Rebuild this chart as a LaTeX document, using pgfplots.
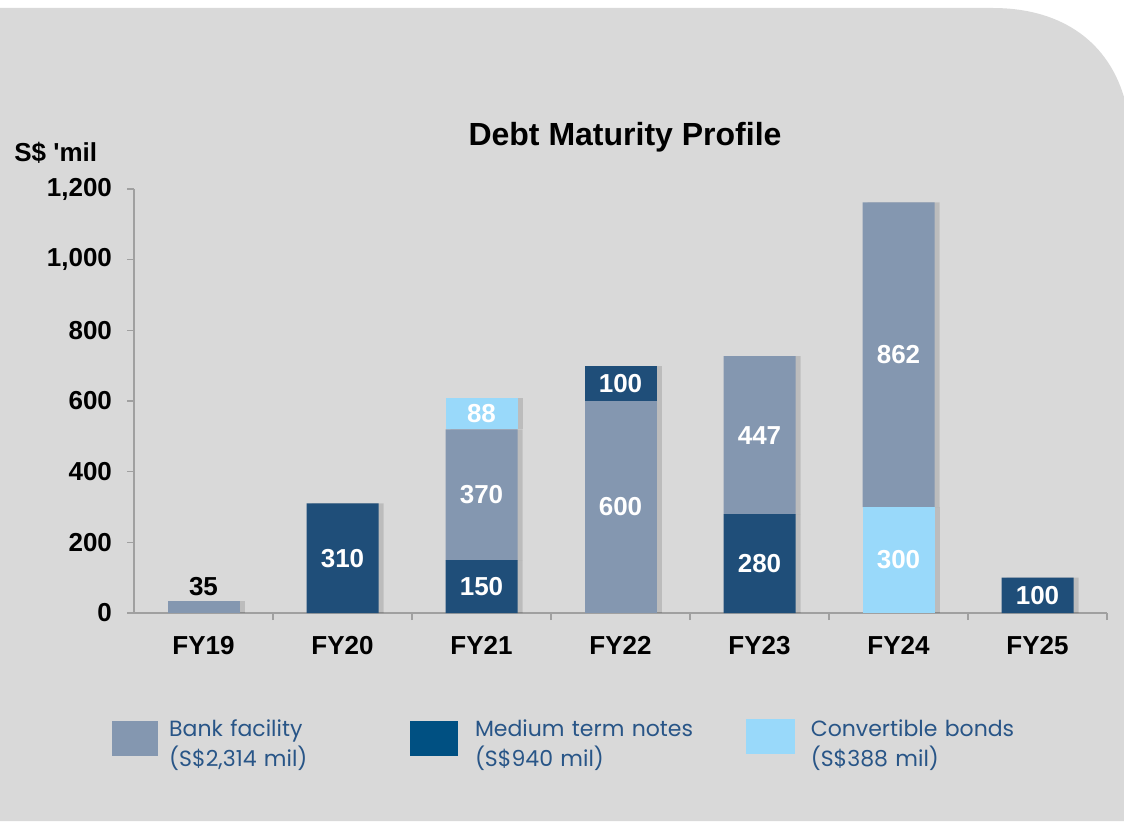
\documentclass[border=0pt]{standalone}
\usepackage{pgfplots}
\pgfplotsset{compat=1.18}
\usepackage{fontspec}
\setmainfont{Liberation Sans}
\newfontfamily\legfont{Poppins}
\definecolor{bg}{RGB}{217,217,217}
\definecolor{bank}{RGB}{132,151,176}
\definecolor{mtn}{RGB}{31,78,121}
\definecolor{mtnleg}{RGB}{0,80,130}
\definecolor{cb}{RGB}{153,217,250}
\definecolor{axgray}{RGB}{160,160,160}
\definecolor{legtext}{RGB}{40,85,135}
\pgfplotsset{
  shadowed/.style={preaction={fill=black, fill opacity=0.13, transform canvas={xshift=2.5pt}}},
  segw/.style={fill=#1, draw=none, shadowed, point meta=explicit symbolic, nodes near coords,
    every node near coord/.append style={text=white, anchor=center,
      font=\fontsize{13}{15}\selectfont\bfseries}},
}
\begin{document}
\begin{tikzpicture}
\path[use as bounding box] (0pt,0pt) rectangle (562pt,410.5pt);
\fill[bg] (0pt,0pt) -- (0pt,406.5pt) -- (496.5pt,406.5pt)
  .. controls (528pt,406.5pt) and (553pt,392pt) .. (562pt,362pt) -- (562pt,0pt) -- cycle;
\node[font=\fontsize{16}{19}\selectfont\bfseries, anchor=base, inner sep=0pt] at (312.5pt,337.5pt) {Debt Maturity Profile};
\node[font=\fontsize{13}{15}\selectfont\bfseries, anchor=base west, inner sep=0pt] at (7pt,329.5pt) {S\$ \textquotesingle mil};
\begin{axis}[
  at={(67pt,104pt)}, anchor=south west, scale only axis,
  width=486.5pt, height=212pt,
  ybar stacked, bar width=36pt,
  xmin=-0.5, xmax=6.5, ymin=0, ymax=1200,
  axis lines*=left,
  axis line style={axgray, line width=0.8pt, -},
  tick style={axgray, line width=0.8pt},
  tick align=outside, major tick length=3.5pt,
  ytick={0,200,...,1200},
  xtick={0.5,1.5,...,6.5}, xticklabels={},
  extra x ticks={0,1,2,3,4,5,6},
  extra x tick labels={FY19,FY20,FY21,FY22,FY23,FY24,FY25},
  extra x tick style={major tick length=0pt, xticklabel style={yshift=-8pt}},
  ticklabel style={font=\fontsize{13}{15}\selectfont\bfseries},
  yticklabel style={xshift=-4pt},
  /pgf/number format/assume math mode=true,
  /pgf/number format/1000 sep={,},
  legend columns=3,
  legend cell align=left,
  legend style={at={(axis description cs:-0.0226,-0.2495)}, anchor=north west,
    draw=none, fill=none, inner sep=0pt, column sep=0pt,
    /tikz/every odd column/.append style={column sep=5.5pt},
    nodes={inner sep=0pt, text=legtext, font=\legfont\fontsize{11}{15}\selectfont}},
]
\addlegendimage{legend image code/.code={\fill[bank] (0pt,-13pt) rectangle (22.5pt,4pt);\path (22.5pt,0pt);}}
\addlegendentry[text width=120.5pt]{Bank facility\\(S\$2,314 mil)}
\addlegendimage{legend image code/.code={\fill[mtnleg] (0pt,-13pt) rectangle (23.5pt,4pt);\path (26.5pt,0pt);}}
\addlegendentry[text width=135.5pt]{Medium term notes\\(S\$940 mil)}
\addlegendimage{legend image code/.code={\fill[cb] (0pt,-12pt) rectangle (24pt,5pt);\path (26.5pt,0pt);}}
\addlegendentry[text width=120pt]{Convertible bonds\\(S\$388 mil)}

% bottom layer
\addplot[fill=bank, draw=none, shadowed, point meta=explicit symbolic, nodes near coords,
  every node near coord/.append style={text=black, anchor=south, yshift=2pt, font=\fontsize{13}{15}\selectfont\bfseries}]
  coordinates {(0,35) [35] (1,0) [] (2,0) [] (3,0) [] (4,0) [] (5,0) [] (6,0) []};
\addplot[segw=bank] coordinates {(0,0) [] (1,0) [] (2,0) [] (3,600) [600] (4,0) [] (5,0) [] (6,0) []};
\addplot[segw=mtn] coordinates {(0,0) [] (1,310) [310] (2,150) [150] (3,0) [] (4,280) [280] (5,0) [] (6,100) [100]};
\addplot[segw=cb] coordinates {(0,0) [] (1,0) [] (2,0) [] (3,0) [] (4,0) [] (5,300) [300] (6,0) []};
% middle layer
\addplot[segw=bank] coordinates {(0,0) [] (1,0) [] (2,370) [370] (3,0) [] (4,447) [447] (5,862) [862] (6,0) []};
% top layer
\addplot[segw=mtn] coordinates {(0,0) [] (1,0) [] (2,0) [] (3,100) [100] (4,0) [] (5,0) [] (6,0) []};
\addplot[segw=cb] coordinates {(0,0) [] (1,0) [] (2,88) [88] (3,0) [] (4,0) [] (5,0) [] (6,0) []};
\end{axis}
\end{tikzpicture}
\end{document}
